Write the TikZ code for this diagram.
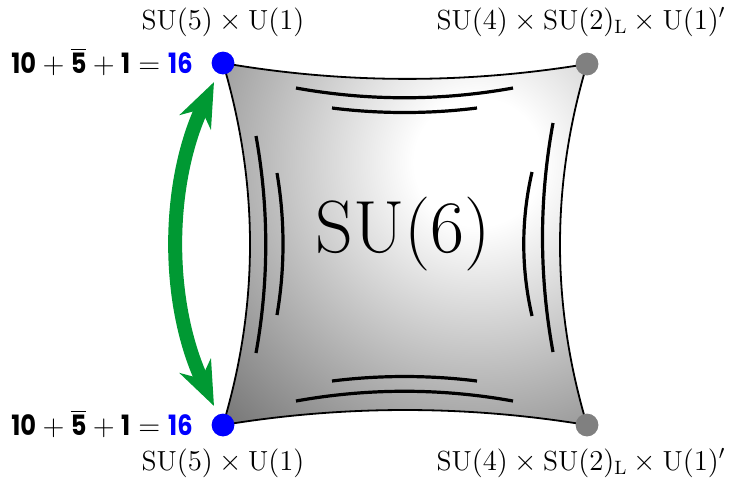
\documentclass[tikz,border=0pt]{standalone}
\usepackage{fontspec}
\usetikzlibrary{arrows.meta}
\newfontfamily\popf{Poppins}[FakeStretch=0.86]
\definecolor{sgreen}{RGB}{0,153,51}
\definecolor{dotgray}{RGB}{128,128,128}
\newcommand\pbx[1]{\hbox{\popf\bfseries #1}}
\pgfdeclareradialshading{bodyshade}{\pgfpoint{0bp}{0bp}}{color(0bp)=(white); color(4bp)=(white); color(25bp)=(black!60); color(50bp)=(black!60)}
\begin{document}
\begin{tikzpicture}[x=0.5pt,y=-0.5pt,
  edge/.style={line width=0.9pt},
  hatch/.style={line width=1.6pt},
  bluedot/.style={circle,fill=blue,minimum size=11.4pt,inner sep=0pt},
  graydot/.style={circle,fill=dotgray,minimum size=11.4pt,inner sep=0pt},
  grp/.style={font=\fontsize{13.8}{16}\selectfont, inner sep=0pt, anchor=base},
  rep/.style={font=\fontsize{14}{16}\selectfont, inner sep=0pt, anchor=base east},
  bigarrow/.style={line width=7pt, sgreen, {Stealth[length=22pt,width=17pt,inset=7pt]}-{Stealth[length=22pt,width=17pt,inset=7pt]}},
]
\useasboundingbox (0,0) rectangle (732,479);
\coordinate (TL) at (223,63);
\coordinate (TR) at (587,64);
\coordinate (BL) at (223,425);
\coordinate (BR) at (587,425);
% shaded body
\begin{scope}
\clip (TL) .. controls (344,84) and (466,84) .. (TR)
      .. controls (551,184) and (551,305) .. (BR)
      .. controls (466,405) and (344,405) .. (BL)
      .. controls (259,305) and (259,184) .. (TL) -- cycle;
\shade[shading=bodyshade] (478,162) circle (200pt);
\end{scope}
\draw[edge] (TL) .. controls (344,84) and (466,84) .. (TR)
      .. controls (551,184) and (551,305) .. (BR)
      .. controls (466,405) and (344,405) .. (BL)
      .. controls (259,305) and (259,184) .. (TL) -- cycle;
% inner arcs
\draw[hatch] (296,88) .. controls (368,101) and (441,101) .. (513,88);
\draw[hatch] (332,108) .. controls (380,114) and (429,114) .. (477,108);
\draw[hatch] (296,401) .. controls (368,388) and (441,388) .. (513,401);
\draw[hatch] (332,381) .. controls (380,375) and (429,375) .. (477,381);
\draw[hatch] (256,136) .. controls (269,208) and (269,281) .. (256,353);
\draw[hatch] (277,173) .. controls (285,220) and (285,268) .. (277,315);
\draw[hatch] (553,123) .. controls (539,199) and (539,276) .. (553,352);
\draw[hatch] (532,172) .. controls (521,220) and (521,268) .. (532,316);
\node[font=\fontsize{37}{40}\selectfont, inner sep=0pt, anchor=base] (su6) at (403,252) {SU(6)};
% arrow
\coordinate (atop) at (214,82);
\coordinate (abot) at (214,406);
\draw[bigarrow] (atop) .. controls (166,185) and (166,303) .. (abot);
% dots
\node[bluedot] (tl) at (TL) {};
\node[bluedot] (bl) at (BL) {};
\node[graydot] (tr) at (TR) {};
\node[graydot] (br) at (BR) {};
% labels
\node[grp] (ltl) at (223,29) {$\mathrm{SU}(5)\times\mathrm{U}(1)$};
\node[grp] (lbl) at (223,470) {$\mathrm{SU}(5)\times\mathrm{U}(1)$};
\node[grp] (ltr) at (581,29) {$\mathrm{SU}(4)\times\mathrm{SU}(2)_{\mathrm{L}}\times\mathrm{U}(1)'$};
\node[grp] (lbr) at (581,470) {$\mathrm{SU}(4)\times\mathrm{SU}(2)_{\mathrm{L}}\times\mathrm{U}(1)'$};
\node[rep] (rtl) at (193,73) {$\pbx{10}+\overline{\pbx{5}}+\pbx{1}=\pbx{\color{blue}16}$};
\node[rep] (rbl) at (193,435) {$\pbx{10}+\overline{\pbx{5}}+\pbx{1}=\pbx{\color{blue}16}$};
\end{tikzpicture}
\end{document}
